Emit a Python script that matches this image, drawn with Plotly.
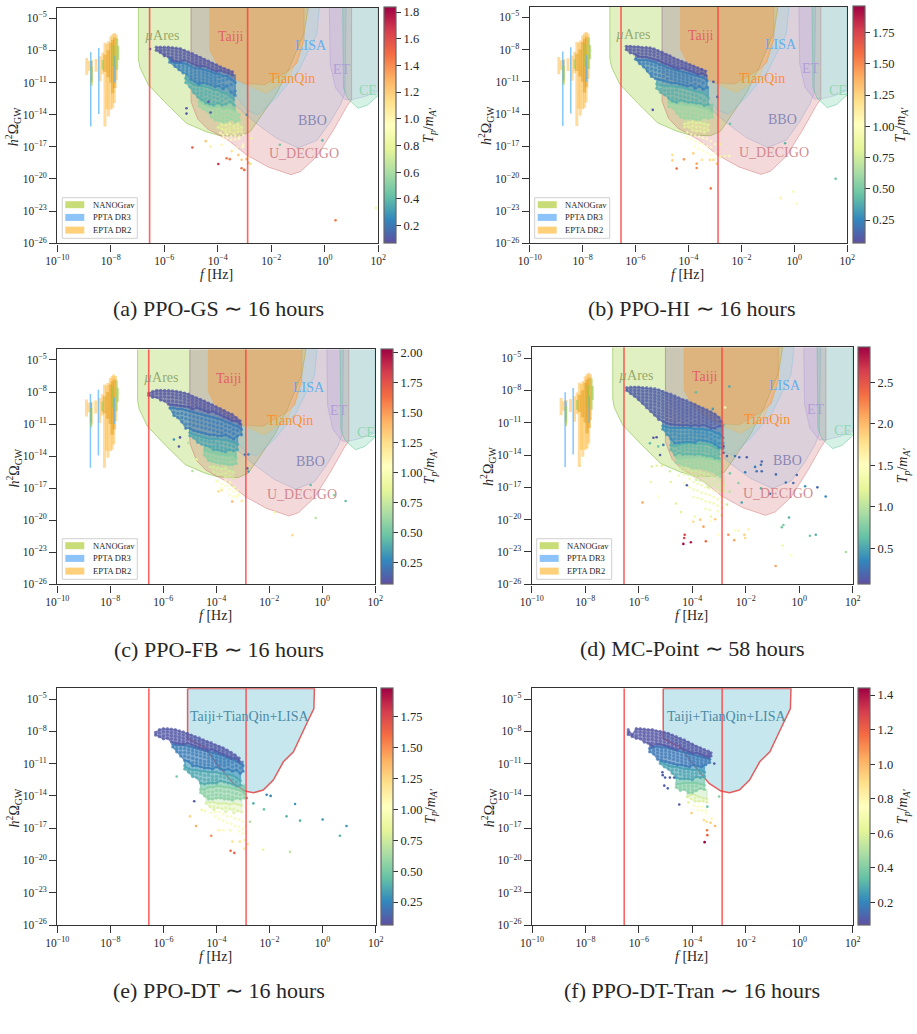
import plotly.graph_objects as go

W, H = 917, 1034

# Sensitivity regions as (log10 f, log10 h^2 Omega) outlines
UARES = [(-6.97,-4),(-6.97,-8.8),(-6.91,-9.6),(-6.6,-11.2),(-5.91,-13.0),(-5.17,-14.8),(-4.42,-15.6),(-3.92,-15.95),(-3.17,-16.0),(-2.8,-15.6),(-2.57,-14.8),(-1.8,-12),(-1.3,-9.5),(-0.78,-6.4),(-0.62,-4)]
BBO = [(-5.0,-4),(-5.0,-8.6),(-4.4,-10.5),(-3.4,-13),(-2.57,-14.8),(-1.8,-16.2),(-1.0,-17.1),(-0.3,-16.4),(0.2,-14.7),(0.6,-13.0),(0.75,-12),(0.8,-4)]
UDECIGO = [(-5.0,-4),(-5.0,-12.8),(-4.75,-14.4),(-4.4,-15.3),(-3.6,-16.4),(-2.9,-17.8),(-2.1,-18.9),(-1.26,-19.6),(-0.9,-19.3),(-0.3,-17.9),(0.33,-15.4),(0.83,-13.2),(1.0,-12.6),(1.0,-4)]
LISA = [(-3.6,-10),(-3.4,-12),(-2.9,-13.6),(-2.5,-14.0),(-1.8,-12.4),(-1.0,-10),(-0.3,-6.5),(-0.2,-4),(-0.78,-4),(-0.78,-7),(-1.05,-9.2),(-1.35,-9.9),(-2.25,-11.2),(-3.0,-11.1),(-3.4,-10.7)]
TAIJI = [(-4.3,-4),(-4.3,-8),(-4.0,-9.4),(-3.43,-10.6),(-3.0,-11.1),(-2.25,-11.2),(-1.35,-9.9),(-1.05,-9.2),(-0.78,-7),(-0.78,-4)]
TIANQIN = [(-3.0,-11.1),(-2.2,-12),(-1.35,-10.7),(-0.85,-7.5),(-0.62,-4),(-0.78,-4),(-0.78,-7),(-1.05,-9.2),(-1.35,-9.9),(-2.25,-11.2)]
ET = [(0.17,-4),(0.2,-9.3),(0.4,-11.5),(0.75,-12.6),(1.0,-12.6),(1.5,-12.3),(2,-11.8),(2,-4)]
CE = [(0.67,-4),(0.7,-11.5),(0.85,-12.5),(1.25,-13.4),(1.6,-13.1),(2,-12.2),(2,-4)]
COMBINED = [(-5.09,-4.02),(-5.09,-8.66),(-4.62,-9.28),(-4.47,-9.37),(-4.0,-10.98),(-3.37,-12.84),(-2.93,-13.55),(-2.61,-13.71),(-2.24,-13.46),(-1.86,-12.53),(-1.48,-10.83),(-1.1,-9.9),(-0.6,-7.27),(-0.33,-5.88),(-0.31,-4.02),(-5.09,-4.02)]

# Pulsar-timing violins: frequency, upper and lower end of each bar
EPTA_F = [-8.9,-8.8,-8.72,-8.55,-8.4,-8.3,-8.22,-8.14,-8.09,-8.0,-7.93,-7.87,-7.8]
EPTA_HI = [-8.7,-9.0,-8.9,-8.8,-8.55,-8.2,-7.3,-7.4,-7.15,-6.69,-6.5,-6.37,-6.5]
EPTA_LO = [-10.3,-9.9,-11.05,-10.0,-10.9,-10.2,-15.1,-13.5,-14.16,-13.54,-13.4,-12.92,-10.74]
EPTA_CORE_F = [-8.22,-8.1,-8.0,-7.93,-7.85]
EPTA_CORE_HI = [-8.4,-8.0,-7.3,-7.0,-6.8]
EPTA_CORE_LO = [-10,-10.5,-11,-12,-11.5]
PPTA_F = [-8.75,-8.72,-8.45,-7.85]
PPTA_HI = [-8.18,-9.0,-7.78,-8.5]
PPTA_LO = [-15.1,-10.8,-13.94,-11.0]
NANO_F = [-8.72,-8.3,-7.9,-7.76,-7.72]
NANO_HI = [-9.5,-8.9,-7.5,-6.9,-7.6]
NANO_LO = [-11.3,-9.8,-9.5,-9.8,-8.9]

CUT_LOW = -6.55
CUT_HIGH = -2.885

# PPO-GS
GS_T = [0.95,0.78,0.55,0.36,0.22,0.10]
GS_COLS = [
 [(-3.9,[-15.7]),(-3.8,[-15.9,-16.15]),(-3.65,[-15.85,-16.2]),(-3.5,[-16.0,-16.35]),(-3.35,[-15.95,-16.3]),(-3.2,[-16.05,-16.25]),(-3.05,[-15.9]),(-3.3,[-17.1]),(-3.05,[-16.8])],
 [(-4.0,[-15.2]),(-3.85,[-14.9,-15.35]),(-3.7,[-15.0,-15.4,-15.7]),(-3.55,[-14.85,-15.25,-15.6]),(-3.4,[-15.05,-15.3,-15.75]),(-3.25,[-14.9,-15.3,-15.6]),(-3.1,[-15.2,-15.6])],
 [(-4.7,[-12.8,-13.2]),(-4.55,[-13.0,-13.45]),(-4.4,[-13.2,-13.65]),(-4.25,[-13.35,-13.8,-14.2]),(-4.1,[-13.3,-13.7,-14.15,-14.5]),(-3.95,[-13.25,-13.7,-14.05,-14.55]),(-3.8,[-13.5,-13.9,-14.3,-14.7]),(-3.65,[-13.4,-13.8,-14.25,-14.6]),(-3.5,[-13.5,-14.0,-14.4]),(-3.35,[-13.7,-14.2,-14.65]),(-3.2,[-14.0,-14.5])],
 [(-5.2,[-10.6,-11.0]),(-5.05,[-11.0,-11.4]),(-4.9,[-11.2,-11.6,-11.95]),(-4.75,[-11.3,-11.65,-12.0,-12.35]),(-4.6,[-11.3,-11.6,-11.95,-12.25,-12.6]),(-4.45,[-11.4,-11.8,-12.1,-12.5,-12.9]),(-4.3,[-11.5,-11.9,-12.25,-12.6,-13.0]),(-4.15,[-11.7,-12.05,-12.4,-12.8,-13.1]),(-4.0,[-11.7,-12.1,-12.5,-12.9]),(-3.85,[-11.95,-12.3,-12.7,-13.1]),(-3.7,[-12.0,-12.5,-13.0]),(-3.55,[-12.3,-12.8]),(-3.4,[-12.6,-13.1])],
 [(-5.8,[-8.8,-9.1]),(-5.6,[-9.2,-9.5]),(-5.45,[-9.2,-9.5,-9.8]),(-5.3,[-9.2,-9.5,-9.8,-10.1]),(-5.15,[-9.3,-9.6,-9.9,-10.2]),(-5.0,[-9.5,-9.8,-10.1,-10.4,-10.7]),(-4.85,[-9.7,-10.0,-10.3,-10.6,-10.9]),(-4.7,[-9.7,-10.0,-10.3,-10.6,-10.9,-11.15]),(-4.55,[-9.8,-10.1,-10.4,-10.7,-11.0]),(-4.4,[-9.9,-10.2,-10.5,-10.8,-11.1]),(-4.25,[-10.0,-10.3,-10.6,-10.9,-11.2]),(-4.1,[-10.2,-10.5,-10.8,-11.1,-11.4]),(-3.95,[-10.2,-10.5,-10.9,-11.3]),(-3.8,[-10.4,-10.8,-11.2,-11.6]),(-3.65,[-10.4,-10.7,-11.3]),(-3.5,[-10.7,-11.2,-11.9]),(-3.35,[-11.0,-11.8,-12.2])],
 [(-6.3,[-7.7,-8.0]),(-6.15,[-7.7,-8.0,-8.2]),(-6.0,[-7.7,-8.0,-8.3,-8.5]),(-5.85,[-7.7,-8.0,-8.3,-8.6]),(-5.7,[-7.75,-8.05,-8.35,-8.65,-9.0]),(-5.55,[-7.8,-8.1,-8.4,-8.7,-9.0]),(-5.4,[-7.85,-8.15,-8.45,-8.75,-9.05]),(-5.25,[-8.0,-8.3,-8.6,-8.9]),(-5.1,[-8.15,-8.45,-8.75,-9.05]),(-4.95,[-8.3,-8.6,-8.9,-9.2]),(-4.8,[-8.5,-8.8,-9.1,-9.4]),(-4.65,[-8.65,-8.95,-9.25,-9.5]),(-4.5,[-8.85,-9.15,-9.45]),(-4.35,[-9.0,-9.3,-9.6]),(-4.2,[-9.2,-9.5,-9.8]),(-4.05,[-9.35,-9.65,-9.95]),(-3.9,[-9.55,-9.85]),(-3.75,[-9.7,-10.0]),(-3.6,[-9.85,-10.1]),(-3.45,[-10.0,-10.3])],
]
GS_SPARSE = [(-5.17,-13.4,.1),(-5.17,-13.9,.1),(-4.35,-12.8,.1),(-4.27,-13.8,.1),(-6.53,-7.87,.1),(-4.95,-17.06,1.55),(-4.45,-16.47,1.2),(-4.27,-16.97,1.05),(-3.98,-18.6,1.7),(-3.67,-18.06,1.45),(-3.55,-18.15,1.45),(-3.86,-16.8,1.0),(-3.48,-17.4,1.1),(-3.23,-17.75,1.2),(-3.11,-18.2,1.2),(-2.86,-18.5,1.25),(-2.92,-18.15,1.25),(-3.11,-19,1.45),(-3.01,-19.15,1.5),(-2.77,-18.6,1.1),(-2.86,-17.9,1.05),(-3.07,-17,.95),(-2.74,-16.2,.8),(-1.68,-16.8,.45),(-0.09,-16.4,.4),(0.4,-23.85,1.45),(1.91,-22.7,.85),(-2.92,-14,.3)]

# PPO-HI
HI_T = [1.0,0.82,0.58,0.38,0.22,0.10]
HI_COLS = [
 [(-4.05,[-15.7,-16.1]),(-3.9,[-15.9,-16.3]),(-3.75,[-16.0,-16.5,-17.0]),(-3.6,[-16.1,-16.7,-17.2]),(-3.45,[-16.2,-16.8,-17.4]),(-3.3,[-16.3,-17.0,-17.6]),(-3.15,[-16.5,-17.1,-17.8]),(-3.0,[-16.8,-17.6,-18.1])],
 [(-4.15,[-14.9,-15.2]),(-4.0,[-14.8,-15.2]),(-3.85,[-14.7,-15.1,-15.5]),(-3.7,[-14.8,-15.2,-15.6]),(-3.55,[-14.8,-15.2,-15.6]),(-3.4,[-14.9,-15.3,-15.7]),(-3.25,[-15.0,-15.5])],
 [(-4.75,[-12.9,-13.3]),(-4.6,[-13.0,-13.4]),(-4.45,[-13.1,-13.5,-13.9]),(-4.3,[-13.1,-13.5,-13.95,-14.3]),(-4.15,[-13.2,-13.6,-14.0,-14.4]),(-4.0,[-13.2,-13.6,-14.0,-14.4]),(-3.85,[-13.2,-13.7,-14.1,-14.4]),(-3.7,[-13.3,-13.7,-14.1,-14.5]),(-3.55,[-13.4,-13.8,-14.2,-14.5]),(-3.4,[-13.5,-13.9,-14.3]),(-3.25,[-13.6,-14.0,-14.4]),(-3.1,[-13.9,-14.3])],
 [(-5.2,[-11.2,-11.6]),(-5.05,[-11.3,-11.7,-12.0]),(-4.9,[-11.4,-11.8,-12.2]),(-4.75,[-11.4,-11.8,-12.1,-12.5]),(-4.6,[-11.4,-11.8,-12.1,-12.5,-12.8]),(-4.45,[-11.5,-11.8,-12.2,-12.6,-12.9]),(-4.3,[-11.5,-11.9,-12.3,-12.7]),(-4.15,[-11.6,-12.0,-12.4,-12.8]),(-4.0,[-11.7,-12.1,-12.5,-12.9]),(-3.85,[-11.8,-12.2,-12.6,-12.9]),(-3.7,[-11.9,-12.3,-12.7,-13.0]),(-3.55,[-12.0,-12.5,-13.0]),(-3.4,[-12.1,-12.7,-13.2]),(-3.25,[-12.5,-13.1])],
 [(-6.0,[-8.9]),(-5.85,[-9.0,-9.3]),(-5.7,[-9.0,-9.3,-9.6]),(-5.55,[-9.0,-9.3,-9.7,-10.0]),(-5.4,[-9.1,-9.4,-9.8,-10.2,-10.5]),(-5.25,[-9.2,-9.5,-9.9,-10.3,-10.7]),(-5.1,[-9.4,-9.7,-10.0,-10.4,-10.8]),(-4.95,[-9.5,-9.8,-10.1,-10.5,-10.9]),(-4.8,[-9.7,-10.0,-10.3,-10.7,-11.0]),(-4.65,[-9.8,-10.1,-10.4,-10.7,-11.1]),(-4.5,[-9.9,-10.2,-10.5,-10.8,-11.1]),(-4.35,[-10.0,-10.3,-10.6,-10.9,-11.2]),(-4.2,[-10.1,-10.4,-10.7,-11.0,-11.3]),(-4.05,[-10.2,-10.5,-10.8,-11.1,-11.4]),(-3.9,[-10.3,-10.6,-10.9,-11.3]),(-3.75,[-10.4,-10.8,-11.2,-11.6]),(-3.6,[-10.5,-10.9,-11.4]),(-3.45,[-10.6,-11.1,-11.7]),(-3.3,[-10.9,-11.5])],
 [(-6.35,[-7.7,-8.0]),(-6.2,[-7.7,-8.0,-8.3]),(-6.05,[-7.75,-8.05,-8.4]),(-5.9,[-7.75,-8.05,-8.35,-8.65]),(-5.75,[-7.8,-8.1,-8.4,-8.7]),(-5.6,[-7.8,-8.1,-8.4,-8.7]),(-5.45,[-7.85,-8.15,-8.45,-8.8]),(-5.3,[-7.95,-8.25,-8.55,-8.9]),(-5.15,[-8.1,-8.4,-8.7,-9.0]),(-5.0,[-8.25,-8.55,-8.85,-9.2]),(-4.85,[-8.45,-8.75,-9.05,-9.35]),(-4.7,[-8.6,-8.9,-9.2,-9.5]),(-4.55,[-8.8,-9.1,-9.4,-9.65]),(-4.4,[-8.95,-9.25,-9.55,-9.8]),(-4.25,[-9.1,-9.4,-9.7]),(-4.1,[-9.25,-9.55,-9.85]),(-3.95,[-9.4,-9.7,-10.0]),(-3.8,[-9.55,-9.85,-10.1]),(-3.65,[-9.7,-10.0,-10.3]),(-3.5,[-9.85,-10.2]),(-3.35,[-10.0,-10.4])],
]
HI_SPARSE = [(-5.35,-13.6,.1),(-2.43,-14.9,.45),(-.35,-16.7,.4),(1.56,-20,.45),(-3.16,-20.9,1.55),(-.04,-21.2,.95),(-.52,-21.8,1.1),(.09,-22.3,1.05),(-4.61,-17.8,1.2),(-4.61,-18.3,1.25),(-4.45,-19.05,1.6),(-4.17,-18.2,1.45),(-3.82,-17.65,1.25),(-3.69,-18.6,1.4),(-3.69,-19,1.5),(-3.5,-18.25,1.15),(-3.19,-18.25,1.2),(-3.06,-18.25,1.2),(-2.93,-18.6,1.25),(-2.81,-17.95,.95),(-2.62,-17.9,.9),(-2.46,-17.9,.95),(-2.81,-16.8,.85),(-2.91,-12.4,.15),(-3.06,-11,.1),(-3.5,-9.85,.1)]

# PPO-FB
FB_T = [1.0,0.8,0.55,0.36,0.22,0.10]
FB_COLS = [
 [(-3.95,[-16.4]),(-3.8,[-16.6,-17.0]),(-3.65,[-16.3,-16.8]),(-3.5,[-16.7,-17.1,-17.6]),(-3.35,[-16.9,-17.3,-17.8]),(-3.2,[-17.2,-17.7])],
 [(-4.25,[-15.0]),(-4.1,[-15.0,-15.5]),(-3.95,[-15.1,-15.7]),(-3.8,[-15.2,-15.7]),(-3.65,[-15.1,-15.6,-16.0]),(-3.5,[-15.4,-15.9]),(-3.35,[-15.5,-16.1])],
 [(-4.45,[-13.5,-13.9]),(-4.3,[-13.6,-14.0,-14.4]),(-4.15,[-13.7,-14.1,-14.5]),(-4.0,[-13.8,-14.2,-14.6]),(-3.85,[-13.9,-14.3,-14.7]),(-3.7,[-13.9,-14.3,-14.7]),(-3.55,[-14.0,-14.4,-14.8]),(-3.4,[-13.9,-14.3,-14.8]),(-3.25,[-14.2,-14.7])],
 [(-5.0,[-11.8,-12.1]),(-4.85,[-12.0,-12.3]),(-4.7,[-12.1,-12.4,-12.7]),(-4.55,[-12.2,-12.5,-12.9]),(-4.4,[-12.3,-12.6,-13.0]),(-4.25,[-12.4,-12.7,-13.1]),(-4.1,[-12.4,-12.7,-13.1,-13.4]),(-3.95,[-12.4,-12.8,-13.1,-13.4]),(-3.8,[-12.5,-12.8,-13.2,-13.5]),(-3.65,[-12.5,-12.9,-13.3,-13.6]),(-3.5,[-12.6,-13.0,-13.4]),(-3.35,[-12.7,-13.1,-13.5]),(-3.2,[-12.9,-13.4])],
 [(-5.75,[-9.5]),(-5.6,[-9.5,-9.9,-10.2]),(-5.45,[-9.6,-10.0,-10.4]),(-5.3,[-9.6,-10.0,-10.4,-10.8]),(-5.15,[-9.7,-10.1,-10.5,-11.0,-11.4]),(-5.0,[-9.8,-10.2,-10.6,-11.0,-11.4]),(-4.85,[-9.9,-10.3,-10.7,-11.1,-11.6]),(-4.7,[-10.0,-10.4,-10.8,-11.2,-11.7]),(-4.55,[-10.1,-10.5,-10.9,-11.3,-11.8]),(-4.4,[-10.2,-10.6,-11.0,-11.4,-11.9]),(-4.25,[-10.3,-10.7,-11.1,-11.5,-12.0]),(-4.1,[-10.4,-10.8,-11.2,-11.6,-12.0]),(-3.95,[-10.5,-10.9,-11.3,-11.7,-12.1]),(-3.8,[-10.6,-11.0,-11.4,-11.8,-12.1]),(-3.65,[-10.8,-11.2,-11.6,-12.0]),(-3.5,[-10.9,-11.3,-11.7,-12.2]),(-3.35,[-11.1,-11.5,-11.9,-12.4]),(-3.2,[-11.2,-11.6,-12.1]),(-3.05,[-11.5,-12.0])],
 [(-6.55,[-8.1,-8.3]),(-6.4,[-7.95,-8.25,-8.5]),(-6.25,[-7.85,-8.15,-8.5]),(-6.1,[-7.85,-8.15,-8.45,-8.75]),(-5.95,[-7.85,-8.15,-8.45,-8.85]),(-5.8,[-7.85,-8.15,-8.5,-8.85,-9.15]),(-5.65,[-7.9,-8.2,-8.5,-8.85,-9.2]),(-5.5,[-7.95,-8.25,-8.55,-8.9,-9.25]),(-5.35,[-8.0,-8.3,-8.6,-8.95,-9.3]),(-5.2,[-8.1,-8.4,-8.7,-9.0,-9.35]),(-5.05,[-8.2,-8.5,-8.8,-9.1,-9.4]),(-4.9,[-8.4,-8.7,-9.0,-9.3,-9.6]),(-4.75,[-8.55,-8.85,-9.15,-9.45]),(-4.6,[-8.7,-9.0,-9.3,-9.6]),(-4.45,[-8.85,-9.15,-9.45,-9.75]),(-4.3,[-9.05,-9.35,-9.65,-9.9]),(-4.15,[-9.2,-9.5,-9.8]),(-4.0,[-9.4,-9.7,-10.0]),(-3.85,[-9.55,-9.85,-10.15]),(-3.7,[-9.75,-10.05,-10.35]),(-3.55,[-9.95,-10.25,-10.5]),(-3.4,[-10.1,-10.4,-10.7]),(-3.25,[-10.4,-10.7]),(-3.1,[-10.7,-11.0])],
]
FB_SPARSE = [(-5.37,-12.25,.1),(-5.6,-12.45,.3),(-5.41,-13.1,.1),(-5.06,-12.75,.7),(-4.9,-15.4,.7),(-2.92,-13.85,.2),(-2.79,-13.85,.25),(-2.79,-15.45,.35),(-2.83,-15.15,.2),(-.44,-16.7,.45),(.44,-17.65,.6),(.88,-18.2,.45),(-.25,-19.8,.7),(-1.13,-21.4,1.25),(-1.79,-19.25,.9),(-3.92,-17.3,1.25),(-3.8,-17.2,1.2),(-3.4,-18.25,1.4),(-3.04,-18.2,1.2),(-3.13,-17.6,1),(-3.23,-17.85,1.05),(-3.99,-16.3,1),(-3.3,-16.9,.9),(-3.48,-16.45,.95),(-4.74,-14.3,.85)]

# MC-Point
MC_T = [1.3,1.1,0.85,0.58,0.36,0.15]
MC_COLS = [
 [(-4.5,[-15.9]),(-4.3,[-15.8,-16.6]),(-4.1,[-16.2,-17.0]),(-3.95,[-16.5,-17.2,-17.9]),(-3.8,[-16.7,-17.3,-18.0]),(-3.65,[-16.8,-17.5,-18.1]),(-3.5,[-17.0,-17.6,-18.3,-19.0]),(-3.35,[-17.1,-17.7,-18.4,-19.1]),(-3.2,[-17.3,-17.9,-18.5]),(-3.05,[-17.4,-18.1,-18.7,-19.2]),(-2.9,[-17.9,-18.4,-18.9])],
 [(-4.45,[-15.2]),(-4.3,[-15.1,-15.5]),(-4.15,[-15.3,-15.8]),(-4.0,[-15.5,-15.9]),(-3.85,[-15.5,-15.9,-16.3]),(-3.7,[-15.6,-16.0,-16.4]),(-3.55,[-15.7,-16.1,-16.5]),(-3.4,[-15.8,-16.2,-16.6,-17.0]),(-3.25,[-16.0,-16.4,-16.8]),(-3.1,[-16.1,-16.5,-17.0]),(-2.95,[-16.4,-16.9,-17.3]),(-2.8,[-16.8,-17.4])],
 [(-4.6,[-14.3,-14.7]),(-4.45,[-14.4,-14.8]),(-4.3,[-14.3,-14.7,-15.0]),(-4.15,[-14.3,-14.6,-15.0]),(-4.0,[-14.3,-14.6,-14.9,-15.2]),(-3.85,[-14.3,-14.6,-14.9,-15.2]),(-3.7,[-14.2,-14.5,-14.9,-15.2]),(-3.55,[-14.3,-14.6,-15.0,-15.3]),(-3.4,[-14.4,-14.7,-15.0,-15.4]),(-3.25,[-14.4,-14.8,-15.1,-15.5]),(-3.1,[-14.5,-14.9,-15.3,-15.7]),(-2.95,[-14.7,-15.1,-15.6,-16.0])],
 [(-4.8,[-13.1,-13.5]),(-4.65,[-13.2,-13.6,-14.0]),(-4.5,[-13.1,-13.4,-13.8]),(-4.35,[-13.0,-13.3,-13.6,-13.95]),(-4.2,[-12.9,-13.2,-13.5,-13.9]),(-4.05,[-12.9,-13.2,-13.55,-13.9]),(-3.9,[-12.95,-13.25,-13.6,-13.95]),(-3.75,[-12.95,-13.3,-13.6,-13.9]),(-3.6,[-13.0,-13.3,-13.6,-14.0]),(-3.45,[-13.0,-13.4,-13.7,-14.1]),(-3.3,[-13.1,-13.5,-13.8,-14.1]),(-3.15,[-13.3,-13.7,-14.0,-14.3]),(-3.0,[-13.5,-13.9,-14.3])],
 [(-5.1,[-11.3,-11.6]),(-4.95,[-11.4,-11.7,-12.1]),(-4.8,[-11.5,-11.8,-12.15,-12.5]),(-4.65,[-11.5,-11.8,-12.1,-12.5,-12.9]),(-4.5,[-11.5,-11.85,-12.2,-12.5,-12.85]),(-4.35,[-11.5,-11.85,-12.2,-12.5,-12.8]),(-4.2,[-11.5,-11.85,-12.2,-12.5,-12.8]),(-4.05,[-11.5,-11.85,-12.15,-12.5,-12.8]),(-3.9,[-11.6,-11.9,-12.2,-12.55,-12.85]),(-3.75,[-11.6,-11.9,-12.25,-12.6]),(-3.6,[-11.6,-11.95,-12.3,-12.65]),(-3.45,[-11.7,-12.0,-12.3,-12.7]),(-3.3,[-11.7,-12.1,-12.5,-12.8]),(-3.15,[-11.9,-12.3,-12.7,-13.0]),(-3.0,[-12.0,-12.4,-12.9,-13.3]),(-2.85,[-12.4,-12.9,-13.4])],
 [(-6.45,[-7.75,-8.0]),(-6.3,[-7.7,-8.0,-8.3]),(-6.15,[-7.7,-8.0,-8.3,-8.55]),(-6.0,[-7.7,-8.0,-8.3,-8.6,-8.85]),(-5.85,[-7.75,-8.05,-8.35,-8.65,-8.95,-9.2]),(-5.7,[-7.75,-8.05,-8.35,-8.65,-8.95,-9.3,-9.6]),(-5.55,[-7.8,-8.1,-8.4,-8.7,-9.0,-9.3,-9.6,-9.95]),(-5.4,[-7.85,-8.15,-8.45,-8.75,-9.05,-9.35,-9.7,-10.0,-10.3]),(-5.25,[-7.95,-8.25,-8.55,-8.85,-9.15,-9.45,-9.8,-10.1,-10.4,-10.7]),(-5.1,[-8.1,-8.4,-8.7,-9.0,-9.3,-9.6,-9.9,-10.2,-10.5,-10.85]),(-4.95,[-8.25,-8.55,-8.85,-9.15,-9.45,-9.75,-10.05,-10.35,-10.7,-11.05]),(-4.8,[-8.35,-8.65,-8.95,-9.25,-9.55,-9.85,-10.15,-10.45,-10.8,-11.15]),(-4.65,[-8.5,-8.8,-9.1,-9.4,-9.7,-10.0,-10.3,-10.6,-10.9,-11.2]),(-4.5,[-8.7,-9.0,-9.3,-9.6,-9.9,-10.2,-10.5,-10.8,-11.2]),(-4.35,[-8.85,-9.15,-9.45,-9.75,-10.05,-10.35,-10.65,-10.95,-11.25]),(-4.2,[-8.95,-9.25,-9.55,-9.85,-10.15,-10.45,-10.8,-11.2]),(-4.05,[-9.15,-9.45,-9.75,-10.05,-10.35,-10.65,-11.0,-11.3]),(-3.9,[-9.3,-9.6,-9.9,-10.2,-10.5,-10.85,-11.2]),(-3.75,[-9.5,-9.8,-10.1,-10.4,-10.7,-11.0,-11.3]),(-3.6,[-9.65,-9.95,-10.25,-10.55,-10.85,-11.2]),(-3.45,[-9.8,-10.1,-10.4,-10.7,-11.0,-11.3]),(-3.3,[-10.0,-10.3,-10.6,-10.9,-11.2,-11.5]),(-3.15,[-10.2,-10.5,-10.8,-11.1,-11.5]),(-3.0,[-10.5,-10.9,-11.3]),(-2.9,[-10.9,-11.3])],
]
MC_SPARSE = [(-2.61,-7.64,.5),(-3.86,-8.17,.6),(-2.77,-9.59,1.4),(-3.23,-9.72,.45),(-2.83,-11.2,.55),(-5.45,-12.4,.1),(-5.33,-12.35,.1),(-5.08,-13.06,.3),(-5.58,-12.9,.6),(-5.27,-13.2,.7),(-5.2,-14,.15),(-5.51,-15.07,1.15),(-5.33,-15,1.2),(-5.14,-15,1.2),(-4.83,-15.5,1.1),(-5.55,-16.5,1.3),(-4.8,-16.5,1.2),(-5.26,-17.85,1.5),(-5.86,-18.4,2.1),(-4.42,-19.3,1.2),(-3.96,-20.2,1.8),(-3.7,-20,1.9),(-3.58,-20.65,2.1),(-3.33,-20.1,1.5),(-3.14,-19.96,1.9),(-3.02,-21.4,1.5),(-2.65,-21.4,2.2),(-2.4,-21,1.5),(-2.27,-21,1.6),(-2.05,-21.4,1.9),(-2.02,-21.7,1.8),(-1.9,-20.9,1.6),(-2.43,-21.9,2.1),(-3.49,-22,2.4),(-4.28,-21.4,2.6),(-4.3,-21.7,2.6),(-4.33,-22.25,2.9),(-4.05,-22.1,2.8),(-2.83,-13.2,.15),(-2.83,-13.8,.2),(-2.7,-14.1,.2),(-2.4,-14.1,.3),(-2.24,-14.2,.2),(-1.96,-14.2,.15),(-1.4,-14.6,.2),(-1.43,-14.9,.25),(-1.65,-15.1,.3),(-1.59,-15.5,.25),(-1.4,-15.5,.2),(-2.02,-15.6,.3),(-.87,-15.8,.2),(-.09,-15.85,.2),(-.5,-16.55,.25),(-.22,-16.6,.25),(.22,-16.9,.4),(.68,-17,.2),(.99,-17.85,.35),(-1.09,-17.6,.25),(-1.43,-17.1,.6),(-2.15,-18.4,.5),(-2.27,-16.6,.8),(-2.59,-15.7,.7),(-.38,-19.8,.55),(-.59,-20.5,.75),(-.65,-20.7,.7),(.4,-21.5,.7),(.62,-21.4,.55),(-.62,-22.4,1.3),(-.3,-23.3,1.5),(-.88,-24.3,2.1),(1.75,-23,.9),(-4.2,-16.8,.15),(-2.6,-17.4,1.0),(-2.7,-18.6,1.1),(-4.6,-18.5,1.2),(-3.9,-19.7,1.3),(-3.3,-19.7,1.25),(-2.9,-19.6,1.2)]

# PPO-DT
DT_T = [0.95,0.78,0.55,0.36,0.22,0.10]
DT_COLS = [
 [(-4.2,[-15.6]),(-4.05,[-15.5,-15.9]),(-3.9,[-15.5,-16.1]),(-3.75,[-15.7,-16.3]),(-3.6,[-15.9,-16.5]),(-3.45,[-15.9,-16.6]),(-3.3,[-16.1,-16.8]),(-3.15,[-16.2,-16.9,-17.3]),(-3.0,[-16.4,-17.1,-17.5]),(-2.9,[-16.8,-17.4])],
 [(-4.4,[-14.7]),(-4.25,[-14.6,-15.0]),(-4.1,[-14.6,-15.0,-15.3]),(-3.95,[-14.7,-15.1]),(-3.8,[-14.7,-15.2]),(-3.65,[-14.7,-15.1,-15.5]),(-3.5,[-14.8,-15.2]),(-3.35,[-14.7,-15.2,-15.6]),(-3.2,[-14.8,-15.4]),(-3.05,[-14.9,-15.5])],
 [(-4.6,[-13.4,-13.7]),(-4.45,[-13.4,-13.7,-14.0]),(-4.3,[-13.2,-13.6,-14.0,-14.3]),(-4.15,[-13.2,-13.6,-13.9,-14.3]),(-4.0,[-13.1,-13.5,-13.9,-14.2]),(-3.85,[-13.1,-13.5,-13.9,-14.2]),(-3.7,[-13.2,-13.6,-14.0,-14.3]),(-3.55,[-13.2,-13.6,-14.0,-14.3]),(-3.4,[-13.3,-13.7,-14.1,-14.4]),(-3.25,[-13.4,-13.8,-14.2]),(-3.1,[-13.5,-13.9,-14.3]),(-2.95,[-13.8,-14.2])],
 [(-5.2,[-11.2,-11.5]),(-5.05,[-11.5,-11.8]),(-4.9,[-11.6,-11.9,-12.2]),(-4.75,[-11.6,-11.9,-12.3]),(-4.6,[-11.7,-12.0,-12.4,-12.8]),(-4.45,[-11.7,-12.1,-12.5,-12.9]),(-4.3,[-11.8,-12.1,-12.5,-12.8]),(-4.15,[-11.8,-12.2,-12.5,-12.8]),(-4.0,[-11.8,-12.2,-12.5,-12.8]),(-3.85,[-11.9,-12.2,-12.6]),(-3.7,[-12.0,-12.3,-12.7]),(-3.55,[-12.0,-12.4,-12.8]),(-3.4,[-12.1,-12.5,-12.9]),(-3.25,[-12.3,-12.7,-13.1]),(-3.1,[-12.6,-13.0])],
 [(-5.65,[-9.2,-9.45]),(-5.5,[-9.3,-9.6,-9.9]),(-5.35,[-9.3,-9.6,-9.95,-10.3]),(-5.2,[-9.3,-9.6,-9.95,-10.3,-10.7]),(-5.05,[-9.4,-9.7,-10.0,-10.4,-10.8]),(-4.9,[-9.5,-9.8,-10.1,-10.5,-10.9,-11.2]),(-4.75,[-9.6,-9.9,-10.2,-10.6,-10.9,-11.2]),(-4.6,[-9.7,-10.0,-10.3,-10.7,-11.0,-11.3]),(-4.45,[-9.8,-10.1,-10.4,-10.8,-11.1,-11.4]),(-4.3,[-9.9,-10.2,-10.5,-10.8,-11.1,-11.4]),(-4.15,[-10.0,-10.3,-10.6,-10.9,-11.2,-11.5]),(-4.0,[-10.1,-10.4,-10.7,-11.0,-11.3]),(-3.85,[-10.2,-10.5,-10.8,-11.1,-11.5]),(-3.7,[-10.3,-10.6,-10.9,-11.2,-11.6]),(-3.55,[-10.5,-10.8,-11.1,-11.5]),(-3.4,[-10.6,-10.9,-11.3,-11.7]),(-3.25,[-10.8,-11.2,-11.6]),(-3.1,[-11.0,-11.4,-11.9]),(-3.0,[-11.2,-11.7])],
 [(-6.3,[-8.1,-8.35]),(-6.15,[-7.85,-8.15,-8.5]),(-6.0,[-7.75,-8.05,-8.4,-8.7]),(-5.85,[-7.75,-8.05,-8.35,-8.65]),(-5.7,[-7.8,-8.1,-8.4,-8.7,-9.0]),(-5.55,[-7.85,-8.15,-8.45,-8.75,-9.1]),(-5.4,[-7.95,-8.25,-8.55,-8.85,-9.15]),(-5.25,[-8.05,-8.35,-8.65,-8.95,-9.2]),(-5.1,[-8.2,-8.5,-8.8,-9.1]),(-4.95,[-8.35,-8.65,-8.95,-9.25]),(-4.8,[-8.5,-8.8,-9.1,-9.4]),(-4.65,[-8.6,-8.9,-9.2,-9.5]),(-4.5,[-8.8,-9.1,-9.4,-9.65]),(-4.35,[-8.95,-9.25,-9.55,-9.8]),(-4.2,[-9.05,-9.35,-9.65]),(-4.05,[-9.25,-9.55,-9.85]),(-3.9,[-9.4,-9.7,-10.0]),(-3.75,[-9.55,-9.85,-10.15]),(-3.6,[-9.75,-10.05,-10.35]),(-3.45,[-9.95,-10.25,-10.5]),(-3.3,[-10.2,-10.5]),(-3.15,[-10.5,-10.8])],
]
DT_SPARSE = [(-5.5,-12.2,.5),(-4.84,-14.5,.1),(-5,-15.9,1.25),(-4.77,-16.8,1.4),(-4.2,-17.7,1.5),(-3.47,-19.1,1.6),(-3.33,-19.3,1.65),(-3.4,-18.25,1.2),(-3.12,-18.25,1.2),(-2.95,-18.1,1.1),(-2.83,-18.5,1.15),(-2.96,-18.9,1.15),(-2.24,-19,.85),(-1.23,-19.2,.7),(-2.11,-13.9,.25),(-1.96,-14,.25),(-1.04,-14.75,.3),(-1.36,-15.9,.4),(-.85,-16.3,.4),(-.0,-16.2,.3),(.9,-16.8,.3),(.65,-17.7,.4),(-2.21,-15.25,.45),(-2.74,-16.4,.65),(-2.61,-14.7,.4),(-2.86,-14.2,.4),(-4.56,-15.3,.9),(-4.43,-15.4,.95),(-3.9,-17.2,1.1),(-3.74,-17.2,1),(-3.49,-17.2,.95)]

# PPO-DT-Tran
TR_T = [0.72,0.58,0.4,0.27,0.17,0.09]
TR_COLS = [
 [(-3.95,[-14.9]),(-3.8,[-15.0,-15.3]),(-3.65,[-15.0,-15.4]),(-3.5,[-15.3,-15.6])],
 [(-4.2,[-14.1]),(-4.05,[-13.9,-14.3]),(-3.9,[-13.9,-14.2,-14.5]),(-3.75,[-14.1,-14.5]),(-3.6,[-14.2,-14.5]),(-3.45,[-14.3,-14.6])],
 [(-4.6,[-12.9,-13.2]),(-4.45,[-12.9,-13.2,-13.5]),(-4.3,[-12.8,-13.1,-13.4]),(-4.15,[-12.8,-13.1,-13.4,-13.7]),(-4.0,[-12.8,-13.1,-13.4,-13.7]),(-3.85,[-12.8,-13.1,-13.5]),(-3.7,[-12.9,-13.3]),(-3.55,[-13.0,-13.4])],
 [(-5.2,[-10.8,-11.0]),(-5.05,[-11.0,-11.3]),(-4.9,[-11.2,-11.5]),(-4.75,[-11.3,-11.6,-11.9]),(-4.6,[-11.3,-11.6,-12.0,-12.3]),(-4.45,[-11.4,-11.7,-12.0,-12.4]),(-4.3,[-11.5,-11.8,-12.1,-12.4]),(-4.15,[-11.5,-11.8,-12.1,-12.4]),(-4.0,[-11.6,-11.9,-12.2,-12.5]),(-3.85,[-11.6,-11.9,-12.2]),(-3.7,[-11.6,-11.9,-12.3]),(-3.55,[-11.8,-12.2])],
 [(-5.6,[-9.6,-9.9]),(-5.45,[-9.5,-9.8,-10.1]),(-5.3,[-9.4,-9.7,-10.0,-10.3,-10.6]),(-5.15,[-9.5,-9.8,-10.1,-10.4,-10.7]),(-5.0,[-9.5,-9.8,-10.1,-10.4,-10.8]),(-4.85,[-9.6,-9.9,-10.2,-10.5,-10.9]),(-4.7,[-9.7,-10.0,-10.3,-10.6,-11.0]),(-4.55,[-9.8,-10.1,-10.4,-10.7,-11.1]),(-4.4,[-9.9,-10.2,-10.5,-10.8,-11.1]),(-4.25,[-10.0,-10.3,-10.6,-10.9,-11.2]),(-4.1,[-10.1,-10.4,-10.7,-11.0,-11.3]),(-3.95,[-10.2,-10.5,-10.8,-11.1]),(-3.8,[-10.3,-10.6,-10.9,-11.2]),(-3.65,[-10.4,-10.7,-11.0,-11.3]),(-3.5,[-10.5,-10.8,-11.1]),(-3.35,[-10.6,-10.9])],
 [(-6.4,[-7.85,-8.1,-8.3]),(-6.25,[-8.3,-8.5]),(-6.1,[-7.75,-8.05,-8.4,-8.65]),(-5.95,[-7.75,-8.05,-8.35,-8.7]),(-5.8,[-7.8,-8.1,-8.4,-8.7,-9.0]),(-5.65,[-7.85,-8.15,-8.45,-8.75,-9.1]),(-5.5,[-7.85,-8.15,-8.45,-8.75,-9.1,-9.4]),(-5.35,[-7.95,-8.25,-8.55,-8.85,-9.15]),(-5.2,[-8.0,-8.3,-8.6,-8.9,-9.2]),(-5.05,[-8.1,-8.4,-8.7,-9.0,-9.3]),(-4.9,[-8.2,-8.5,-8.8,-9.1,-9.4]),(-4.75,[-8.35,-8.65,-8.95,-9.25,-9.55]),(-4.6,[-8.5,-8.8,-9.1,-9.4,-9.7]),(-4.45,[-8.65,-8.95,-9.25,-9.55]),(-4.3,[-8.8,-9.1,-9.4,-9.7]),(-4.15,[-9.0,-9.3,-9.6,-9.9]),(-4.0,[-9.2,-9.5,-9.8,-10.05]),(-3.85,[-9.4,-9.7,-10.0]),(-3.7,[-9.55,-9.85,-10.15]),(-3.55,[-9.7,-10.0,-10.3]),(-3.4,[-9.85,-10.15,-10.4]),(-3.3,[-10.0,-10.3])],
]
TR_SPARSE = [(-3.18,-11,.1),(-5.12,-11.8,.1),(-5.11,-12.07,.1),(-5.02,-12.3,.12),(-4.84,-12.3,.1),(-4.68,-12.3,.15),(-5.05,-13.05,.1),(-4.92,-13.3,.12),(-4.49,-14.8,.1),(-4.15,-14.6,.6),(-4.03,-15.6,.95),(-3.44,-15,.35),(-3,-14.05,.4),(-3.57,-16.25,.9),(-3.47,-16.4,.9),(-3.32,-16.5,.95),(-3.28,-16.1,.8),(-3.15,-16.8,1.0),(-3.45,-17.2,1.15),(-3.44,-17.65,1.2),(-3.54,-18.3,1.45)]

CAPTIONS = ["(a) PPO-GS ∼ 16 hours","(b) PPO-HI ∼ 16 hours","(c) PPO-FB ∼ 16 hours","(d) MC-Point ∼ 58 hours","(e) PPO-DT ∼ 16 hours","(f) PPO-DT-Tran ∼ 16 hours"]
CBAR_RANGE = [(0.066,1.835),(0.063,1.96),(0.065,2.03),(0.066,2.92),(0.064,1.977),(0.069,1.44)]
CBAR_TICKS = [
 ["0.2","0.4","0.6","0.8","1.0","1.2","1.4","1.6","1.8"],
 ["0.25","0.50","0.75","1.00","1.25","1.50","1.75"],
 ["0.25","0.50","0.75","1.00","1.25","1.50","1.75","2.00"],
 ["0.5","1.0","1.5","2.0","2.5"],
 ["0.25","0.50","0.75","1.00","1.25","1.50","1.75"],
 ["0.2","0.4","0.6","0.8","1.0","1.2","1.4"],
]
X_TICK_EXP = [-10,-8,-6,-4,-2,0,2]
Y_TICK_EXP = [-26,-23,-20,-17,-14,-11,-8,-5]
LEGEND_NAMES = ["NANOGrav","PPTA DR3","EPTA DR2"]

SPECTRAL_R = ["#5e4fa2","#3288bd","#66c2a5","#abdda4","#e6f598","#ffffbf","#fee08b","#fdae61","#f46d43","#d53e4f","#9e0142"]
COLORSCALE = [[i / 10, c] for i, c in enumerate(SPECTRAL_R)]
SERIF = "Liberation Serif"
TEXT = "#262626"

# Pixel frames of the six panels: left, right, top, bottom, colour bar left, colour bar right
FRAMES = [
 (57.3,378.3,7.5,243.3,384,396),
 (529.7,847.3,6.5,243.3,852.7,865),
 (57.3,375.3,349.3,584.3,381,393.3),
 (531.7,852.7,347.3,584.3,858.3,870.7),
 (57.3,375.7,688.3,925,381,393.3),
 (532,852.7,688.3,925,858.3,870.7),
]
CAPTION_POS = [(218,308),(691,308),(219,649),(692.7,648),(219,990),(691.7,990)]
CBAR_TITLE_X = [430,901,430,903,430.7,903]

# Drawing order keeps Taiji on top of the detectors it overlaps
REGIONS = [
 ("<i>µ</i>Ares", UARES, "rgba(154,205,50,0.3)", "rgba(150,200,90,0.7)", "rgba(130,150,85,0.8)", (-6.07,-6.6)),
 ("U_DECIGO", UDECIGO, "rgba(205,92,92,0.23)", "rgba(205,92,92,0.4)", "rgba(205,125,135,0.9)", (-0.78,-17.6)),
 ("BBO", BBO, "rgba(130,175,225,0.2)", "rgba(110,130,190,0.25)", "rgba(120,120,175,0.85)", (-0.45,-14.5)),
 ("LISA", LISA, "rgba(130,210,215,0.25)", "rgba(90,180,240,0.25)", "rgba(85,175,240,0.95)", (-0.52,-7.56)),
 ("Taiji", TAIJI, "rgba(255,150,40,0.38)", "rgba(255,150,30,0.25)", "rgba(225,90,105,0.95)", (-3.52,-6.69)),
 ("TianQin", TIANQIN, "rgba(255,190,80,0.3)", "rgba(255,170,60,0.25)", "rgba(255,140,30,0.95)", (-1.22,-10.67)),
 ("ET", ET, "rgba(150,120,220,0.15)", "rgba(150,120,220,0.25)", "rgba(175,155,215,0.95)", (0.63,-9.74)),
 ("CE", CE, "rgba(90,200,150,0.25)", "rgba(90,200,150,0.5)", "rgba(140,215,175,0.95)", (1.63,-11.76)),
]
COMBINED_LABEL = ("Taiji+TianQin+LISA", (-2.74,-6.65))

CLOUDS = [(GS_T,GS_COLS,GS_SPARSE),(HI_T,HI_COLS,HI_SPARSE),(FB_T,FB_COLS,FB_SPARSE),(MC_T,MC_COLS,MC_SPARSE),(DT_T,DT_COLS,DT_SPARSE),(TR_T,TR_COLS,TR_SPARSE)]


def lin(values):
    return [10.0 ** v for v in values]


def bars(fs, his, los):
    xs, ys = [], []
    for f, hi, lo in zip(fs, his, los):
        xs += [10.0 ** f, 10.0 ** f, None]
        ys += [10.0 ** hi, 10.0 ** lo, None]
    return xs, ys


def flatten(ts, band_cols):
    xs, ys, cs, ss = [], [], [], []
    for b, (t, cols) in enumerate(zip(ts, band_cols)):
        for x, col_y in cols:
            for y in col_y:
                xs.append(x)
                ys.append(y)
                cs.append(t)
                ss.append(2.8 if b < 2 else 3.3)
    return xs, ys, cs, ss


def scale_colour(value, cmin, cmax, alpha):
    pos = max(0.0, min(1.0, (value - cmin) / (cmax - cmin))) * 10
    idx = min(int(pos), 9)
    frac = pos - idx
    a, b = SPECTRAL_R[idx], SPECTRAL_R[idx + 1]
    rgb = [round(int(a[k:k + 2], 16) * (1 - frac) + int(b[k:k + 2], 16) * frac) for k in (1, 3, 5)]
    return f"rgba({rgb[0]},{rgb[1]},{rgb[2]},{alpha})"


def band_outline(cols):
    """Closed outline around a colour band's columns, top edge then bottom edge."""
    ordered = sorted(cols, key=lambda c: c[0])
    top = [(x, max(ys)) for x, ys in ordered]
    low = [(x, min(ys)) for x, ys in reversed(ordered)]
    ring = top + low + top[:1]
    return lin([p[0] for p in ring]), lin([p[1] for p in ring])


def bridge_outline(upper_cols, lower_cols):
    """Closed outline of the strip between two neighbouring colour bands."""
    upper_sorted = sorted(upper_cols, key=lambda c: c[0])
    top, bottom = [], []
    for x, ys in sorted(lower_cols, key=lambda c: c[0]):
        near = min(upper_sorted, key=lambda c: abs(c[0] - x))
        if abs(near[0] - x) <= 0.16:
            top.append((x, min(near[1])))
            bottom.append((x, max(ys)))
    if len(top) < 2:
        return None
    ring = top + bottom[::-1] + top[:1]
    return lin([p[0] for p in ring]), lin([p[1] for p in ring])


fig = go.Figure()
annotations, shapes = [], []
layout_axes = {}


def paper_text(px, py, text, size, angle=0, xanchor="center", color=TEXT):
    annotations.append(dict(xref="paper", yref="paper", x=px / W, y=1 - py / H, text=text, showarrow=False,
                            xanchor=xanchor, yanchor="middle", textangle=angle,
                            font=dict(family=SERIF, size=size, color=color)))


for i, (L, R, T, B, CL, CR) in enumerate(FRAMES):
    n = "" if i == 0 else str(i + 1)
    xa, ya = f"x{n}", f"y{n}"
    layout_axes[f"xaxis{n}"] = dict(
        type="log", range=[-10, 2], domain=[L / W, R / W], anchor=ya,
        tickvals=[10.0 ** e for e in X_TICK_EXP],
        ticktext=[f"10<sup>{str(e).replace('-', '−')}</sup>" for e in X_TICK_EXP],
        ticks="outside", ticklen=7, tickwidth=1.2, tickcolor="#333",
        showline=True, linecolor="#333", linewidth=1.4, mirror=True, showgrid=False, zeroline=False,
        tickfont=dict(family=SERIF, size=11.5, color=TEXT), tickangle=0,
    )
    layout_axes[f"yaxis{n}"] = dict(
        type="log", range=[-26, -4], domain=[1 - B / H, 1 - T / H], anchor=xa,
        tickvals=[10.0 ** e for e in Y_TICK_EXP],
        ticktext=[f"10<sup>{str(e).replace('-', '−')}</sup>" for e in Y_TICK_EXP],
        ticks="outside", ticklen=7, tickwidth=1.2, tickcolor="#333",
        showline=True, linecolor="#333", linewidth=1.4, mirror=True, showgrid=False, zeroline=False,
        tickfont=dict(family=SERIF, size=11.5, color=TEXT),
    )
    paper_text((L + R) / 2 - 1, B + 31, "<i>f</i> [Hz]", 14)
    paper_text(L - 43.5, (T + B) / 2 + 1, "<i>h</i><sup>2</sup>Ω<sub>GW</sub>", 14, angle=-90)

    common = dict(xaxis=xa, yaxis=ya, showlegend=False, hoverinfo="skip")

    if i < 4:
        for name, outline, fill, edge, label_col, pos in REGIONS:
            fig.add_trace(go.Scatter(
                x=lin([p[0] for p in outline]), y=lin([p[1] for p in outline]),
                mode="lines", fill="toself", fillcolor=fill, line=dict(color=edge, width=1), **common))
            annotations.append(dict(xref=xa, yref=ya, x=pos[0], y=pos[1], text=name, showarrow=False,
                                    xanchor="center", yanchor="middle",
                                    font=dict(family=SERIF, size=14, color=label_col)))
        for fs, his, los, color, width in [
            (EPTA_F, EPTA_HI, EPTA_LO, "rgba(255,185,60,0.5)", 3),
            (EPTA_CORE_F, EPTA_CORE_HI, EPTA_CORE_LO, "rgba(225,155,20,0.45)", 3.5),
            (PPTA_F, PPTA_HI, PPTA_LO, "rgba(90,180,255,0.75)", 1.5),
            (NANO_F, NANO_HI, NANO_LO, "rgba(150,200,70,0.55)", 2.2),
        ]:
            bx, by = bars(fs, his, los)
            fig.add_trace(go.Scatter(x=bx, y=by, mode="lines", line=dict(color=color, width=width), **common))
    else:
        name, pos = COMBINED_LABEL
        fig.add_trace(go.Scatter(
            x=lin([p[0] for p in COMBINED]), y=lin([p[1] for p in COMBINED]),
            mode="lines", fill="toself", fillcolor="rgba(172,219,232,0.68)",
            line=dict(color="rgba(225,85,85,0.95)", width=1.5), **common))
        annotations.append(dict(xref=xa, yref=ya, x=pos[0], y=pos[1], text=name, showarrow=False,
                                xanchor="center", yanchor="middle",
                                font=dict(family=SERIF, size=14, color="#4a8ba6")))

    ts, band_cols, sparse = CLOUDS[i]
    cx, cy, cc, cs = flatten(ts, band_cols)
    cmin, cmax = CBAR_RANGE[i]
    tick_labels = CBAR_TICKS[i]

    # Dense colour bands read as one mass: a translucent body under each band's dots,
    # so the dots stay visible as grain, and a strip joining it to the next band
    for b in range(1, len(ts)):
        opacity = 0.35 if b == 1 else 0.62
        if b + 1 < len(ts):
            strip = bridge_outline(band_cols[b + 1], band_cols[b])
            if strip:
                mid = (ts[b] + ts[b + 1]) / 2
                fig.add_trace(go.Scatter(x=strip[0], y=strip[1], mode="lines", fill="toself",
                                         fillcolor=scale_colour(mid, cmin, cmax, opacity),
                                         line=dict(color=scale_colour(mid, cmin, cmax, opacity), width=1.5), **common))
        ox, oy = band_outline(band_cols[b])
        fig.add_trace(go.Scatter(x=ox, y=oy, mode="lines", fill="toself",
                                 fillcolor=scale_colour(ts[b], cmin, cmax, opacity),
                                 line=dict(color=scale_colour(ts[b], cmin, cmax, opacity), width=1.5), **common))

    fig.add_trace(go.Scatter(
        x=lin(cx), y=lin(cy), mode="markers",
        marker=dict(color=cc, size=cs, line=dict(width=0), colorscale=COLORSCALE, cmin=cmin, cmax=cmax, showscale=True,
                    colorbar=dict(
                        x=CL / W, xanchor="left", xpad=0, y=1 - (T + B) / 2 / H, yanchor="middle", ypad=0,
                        len=(B - T) / H, lenmode="fraction", thickness=CR - CL, thicknessmode="pixels",
                        tickvals=[float(v) for v in tick_labels], ticktext=tick_labels,
                        ticks="outside", ticklen=5, tickwidth=1.2, tickcolor="#333",
                        outlinecolor="#666", outlinewidth=1.2,
                        tickfont=dict(family=SERIF, size=12.5, color=TEXT))),
        **common))
    fig.add_trace(go.Scatter(
        x=lin([p[0] for p in sparse]), y=lin([p[1] for p in sparse]), mode="markers",
        marker=dict(color=[p[2] for p in sparse], size=2.6, line=dict(width=0), colorscale=COLORSCALE, cmin=cmin, cmax=cmax),
        **common))

    for cut in (CUT_LOW, CUT_HIGH):
        fig.add_trace(go.Scatter(x=lin([cut, cut]), y=lin([-26, -4]), mode="lines",
                                 line=dict(color="rgba(255,60,60,0.8)", width=1.6), **common))

    cap_x, cap_y = CAPTION_POS[i]
    paper_text(cap_x, cap_y, CAPTIONS[i], 22)
    paper_text(CBAR_TITLE_X[i], (T + B) / 2 - 0.5, "<i>T<sub>p</sub></i>/<i>m<sub>A′</sub></i>", 14, angle=-90)

    # Hand-placed legend box in the lower-left corner of the first four panels
    if i < 4:
        bl, br, bt, bb = L + 5, L + 80, B - 45.6, B - 5
        shapes.append(dict(type="rect", xref="paper", yref="paper", x0=bl / W, x1=br / W, y0=1 - bb / H, y1=1 - bt / H,
                           fillcolor="rgba(255,255,255,0.85)", line=dict(color="#d0d0d0", width=1)))
        swatches = ["#c8dc78", "#8cc4fa", "#ffd07a"]
        for row, (label, col) in enumerate(zip(LEGEND_NAMES, swatches)):
            yc = bt + 7 + row * 12.7
            shapes.append(dict(type="rect", xref="paper", yref="paper", x0=(bl + 3) / W, x1=(bl + 22) / W,
                               y0=1 - (yc + 3.5) / H, y1=1 - (yc - 3.5) / H, fillcolor=col, line=dict(width=0)))
            paper_text(bl + 28.5, yc, label, 8.5, xanchor="left")

fig.update_layout(
    width=W, height=H, margin=dict(l=0, r=0, t=0, b=0, autoexpand=False),
    paper_bgcolor="white", plot_bgcolor="white", showlegend=False,
    annotations=annotations, shapes=shapes, **layout_axes,
)
fig.write_html("out.html")
